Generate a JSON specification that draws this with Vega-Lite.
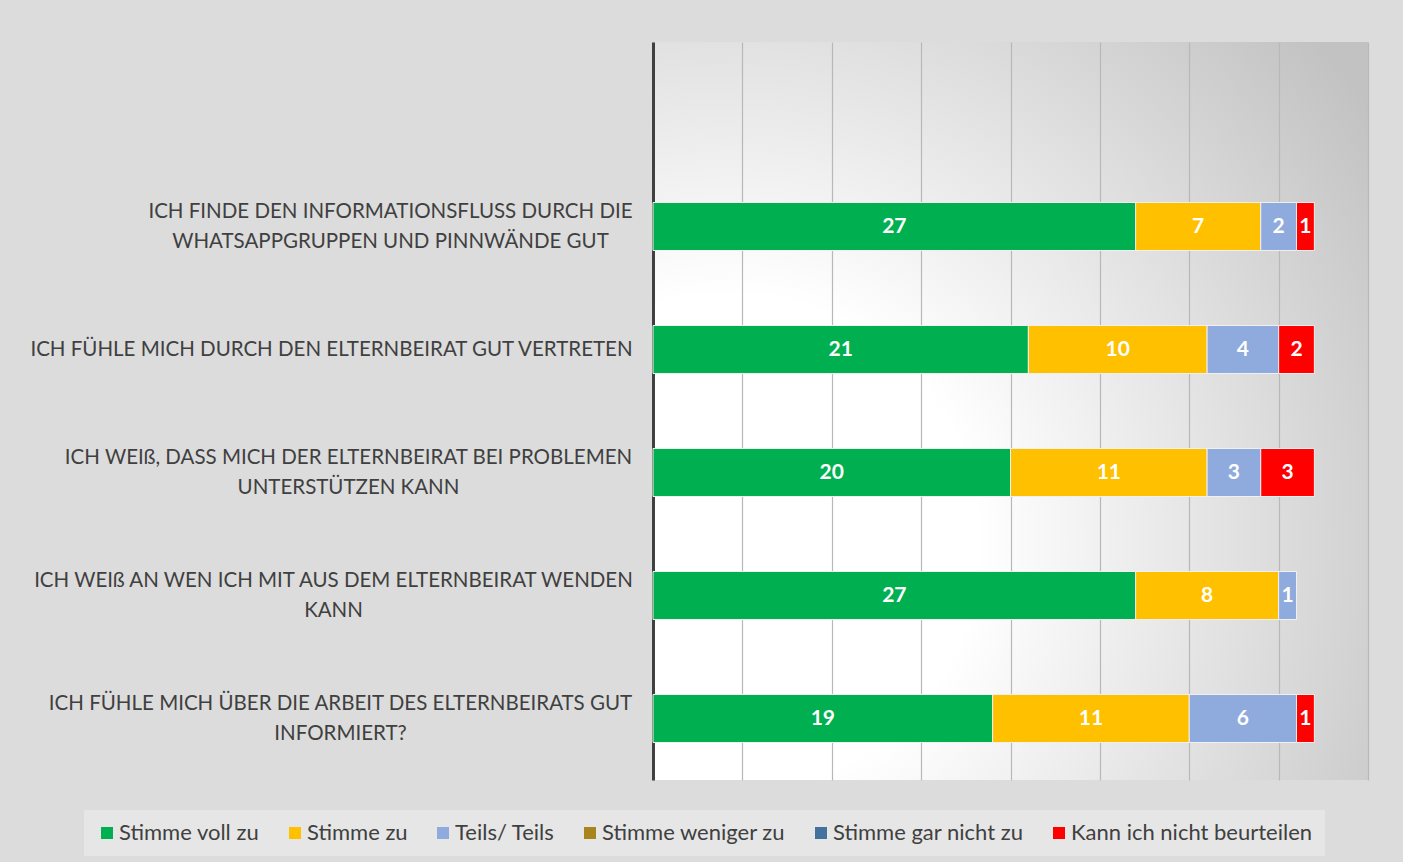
{
  "$schema": "https://vega.github.io/schema/vega-lite/v6.json",
  "width": 715,
  "height": 738,
  "autosize": {"type": "none"},
  "padding": {"left": 653, "top": 42, "right": 35, "bottom": 82},
  "background": "#dcdcdc",
  "view": {
    "stroke": null,
    "fill": {
      "gradient": "radial",
      "x1": 0.12, "y1": 0.68, "r1": 0,
      "x2": 0.12, "y2": 0.68, "r2": 1.05,
      "stops": [
        {"offset": 0, "color": "#ffffff"},
        {"offset": 0.32, "color": "#ffffff"},
        {"offset": 1, "color": "#c2c2c2"}
      ]
    }
  },
  "data": {
    "values": [
      {"question": "ICH FINDE DEN INFORMATIONSFLUSS DURCH DIE|WHATSAPPGRUPPEN UND PINNWÄNDE GUT", "answer": "Stimme voll zu", "value": 27},
      {"question": "ICH FINDE DEN INFORMATIONSFLUSS DURCH DIE|WHATSAPPGRUPPEN UND PINNWÄNDE GUT", "answer": "Stimme zu", "value": 7},
      {"question": "ICH FINDE DEN INFORMATIONSFLUSS DURCH DIE|WHATSAPPGRUPPEN UND PINNWÄNDE GUT", "answer": "Teils/ Teils", "value": 2},
      {"question": "ICH FINDE DEN INFORMATIONSFLUSS DURCH DIE|WHATSAPPGRUPPEN UND PINNWÄNDE GUT", "answer": "Kann ich nicht beurteilen", "value": 1},
      {"question": "ICH FÜHLE MICH DURCH DEN ELTERNBEIRAT GUT VERTRETEN", "answer": "Stimme voll zu", "value": 21},
      {"question": "ICH FÜHLE MICH DURCH DEN ELTERNBEIRAT GUT VERTRETEN", "answer": "Stimme zu", "value": 10},
      {"question": "ICH FÜHLE MICH DURCH DEN ELTERNBEIRAT GUT VERTRETEN", "answer": "Teils/ Teils", "value": 4},
      {"question": "ICH FÜHLE MICH DURCH DEN ELTERNBEIRAT GUT VERTRETEN", "answer": "Kann ich nicht beurteilen", "value": 2},
      {"question": "ICH WEIß, DASS MICH DER ELTERNBEIRAT BEI PROBLEMEN|UNTERSTÜTZEN KANN", "answer": "Stimme voll zu", "value": 20},
      {"question": "ICH WEIß, DASS MICH DER ELTERNBEIRAT BEI PROBLEMEN|UNTERSTÜTZEN KANN", "answer": "Stimme zu", "value": 11},
      {"question": "ICH WEIß, DASS MICH DER ELTERNBEIRAT BEI PROBLEMEN|UNTERSTÜTZEN KANN", "answer": "Teils/ Teils", "value": 3},
      {"question": "ICH WEIß, DASS MICH DER ELTERNBEIRAT BEI PROBLEMEN|UNTERSTÜTZEN KANN", "answer": "Kann ich nicht beurteilen", "value": 3},
      {"question": "ICH WEIß AN WEN ICH MIT AUS DEM ELTERNBEIRAT WENDEN|KANN", "answer": "Stimme voll zu", "value": 27},
      {"question": "ICH WEIß AN WEN ICH MIT AUS DEM ELTERNBEIRAT WENDEN|KANN", "answer": "Stimme zu", "value": 8},
      {"question": "ICH WEIß AN WEN ICH MIT AUS DEM ELTERNBEIRAT WENDEN|KANN", "answer": "Teils/ Teils", "value": 1},
      {"question": "ICH FÜHLE MICH ÜBER DIE ARBEIT DES ELTERNBEIRATS GUT|INFORMIERT?", "answer": "Stimme voll zu", "value": 19},
      {"question": "ICH FÜHLE MICH ÜBER DIE ARBEIT DES ELTERNBEIRATS GUT|INFORMIERT?", "answer": "Stimme zu", "value": 11},
      {"question": "ICH FÜHLE MICH ÜBER DIE ARBEIT DES ELTERNBEIRATS GUT|INFORMIERT?", "answer": "Teils/ Teils", "value": 6},
      {"question": "ICH FÜHLE MICH ÜBER DIE ARBEIT DES ELTERNBEIRATS GUT|INFORMIERT?", "answer": "Kann ich nicht beurteilen", "value": 1}
    ]
  },
  "transform": [
    {"stack": "value", "groupby": ["question"], "as": ["v0", "v1"]},
    {"calculate": "(datum.v0 + datum.v1) / 2", "as": "mid"}
  ],
  "encoding": {
    "y": {
      "field": "question",
      "type": "nominal",
      "scale": {
        "domain": [
          " ",
          "ICH FINDE DEN INFORMATIONSFLUSS DURCH DIE|WHATSAPPGRUPPEN UND PINNWÄNDE GUT",
          "ICH FÜHLE MICH DURCH DEN ELTERNBEIRAT GUT VERTRETEN",
          "ICH WEIß, DASS MICH DER ELTERNBEIRAT BEI PROBLEMEN|UNTERSTÜTZEN KANN",
          "ICH WEIß AN WEN ICH MIT AUS DEM ELTERNBEIRAT WENDEN|KANN",
          "ICH FÜHLE MICH ÜBER DIE ARBEIT DES ELTERNBEIRATS GUT|INFORMIERT?"
        ],
        "paddingInner": 0.61,
        "paddingOuter": 0.305
      },
      "axis": {
        "title": null,
        "domain": true,
        "domainColor": "#404040",
        "domainWidth": 3,
        "ticks": false,
        "grid": false,
        "labelFont": "Lato",
        "labelFontSize": 20.5,
        "labelColor": "#404040",
        "labelAlign": "center",
        "labelPadding": {
          "condition": [
            {"test": "indexof(datum.value, 'WHATSAPP') >= 0", "value": 263},
            {"test": "indexof(datum.value, 'VERTRETEN') >= 0", "value": 322},
            {"test": "indexof(datum.value, 'PROBLEMEN') >= 0", "value": 305},
            {"test": "indexof(datum.value, 'WENDEN') >= 0", "value": 320},
            {"test": "indexof(datum.value, 'INFORMIERT') >= 0", "value": 313}
          ],
          "value": 22
        },
        "labelOffset": {
          "condition": {"test": "indexof(datum.value, '|') >= 0", "value": -15},
          "value": 0
        },
        "labelLimit": 700,
        "labelLineHeight": 30,
        "labelExpr": "split(datum.label, '|')"
      }
    }
  },
  "layer": [
    {
      "mark": {"type": "bar", "stroke": "#f0f0f0", "strokeWidth": 1},
      "encoding": {
        "x": {
          "field": "v0",
          "type": "quantitative",
          "scale": {"domain": [0, 40], "nice": false},
          "axis": {
            "title": null,
            "domain": false,
            "ticks": false,
            "labels": false,
            "grid": true,
            "gridColor": "#b8b8b8",
            "gridWidth": 1.2,
            "values": [0, 5, 10, 15, 20, 25, 30, 35, 40]
          }
        },
        "x2": {"field": "v1"},
        "color": {
          "field": "answer",
          "type": "nominal",
          "scale": {
            "domain": ["Stimme voll zu", "Stimme zu", "Teils/ Teils", "Stimme weniger zu", "Stimme gar nicht zu", "Kann ich nicht beurteilen"],
            "range": ["#00b050", "#ffc000", "#8faadc", "#a8841f", "#44729e", "#ff0000"]
          },
          "legend": {
            "title": null,
            "orient": "none",
            "legendX": -569,
            "legendY": 768,
            "direction": "horizontal",
            "fillColor": "#e6e6e6",
            "padding": 12,
            "symbolType": "square",
            "symbolSize": 144,
            "symbolStrokeWidth": 0,
            "labelFont": "Lato",
            "labelFontSize": 22,
            "labelColor": "#404040",
            "labelOffset": 1,
            "columnPadding": 24,
            "labelLimit": 400
          }
        }
      }
    },
    {
      "mark": {"type": "text", "color": "white", "fontWeight": "bold", "font": "Lato", "fontSize": 21, "baseline": "middle"},
      "encoding": {
        "x": {"field": "mid", "type": "quantitative"},
        "text": {"field": "value", "type": "quantitative"}
      }
    }
  ]
}
